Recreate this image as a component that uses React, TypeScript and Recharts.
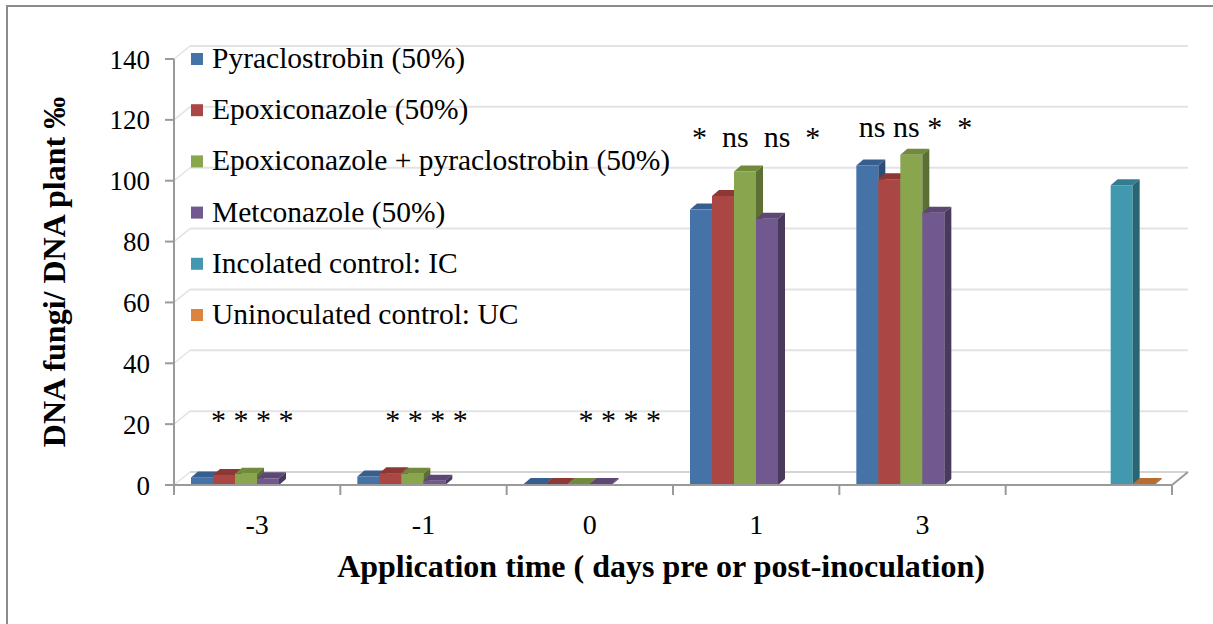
import React from 'react';
import { ComposedChart, Bar, Line, XAxis, YAxis, CartesianGrid, Legend, LabelList } from 'recharts';

// ---------------- data ----------------
const CATEGORIES = ['-3', '-1', '0', '1', '3', ''];
const PYRACLOSTROBIN = [2.5, 2.8, 0.3, 90.5, 105, null];
const EPOXICONAZOLE = [3.3, 3.9, 0.3, 95, 100.5, null];
const EPOXI_PYRA = [3.7, 3.7, 0.3, 103, 108.5, null];
const METCONAZOLE = [2.2, 1.4, 0.3, 87.5, 89.5, null];
const INOCULATED_CONTROL = [null, null, null, null, null, 98.5];
const UNINOCULATED_CONTROL = [null, null, null, null, null, 0.3];
const SIGNIFICANCE_TEXT = ['* * * *', '* * * *', '* * * *', '*  ns  ns  *', 'ns ns *  *', ''];
const SIGNIFICANCE_LEVEL = [18, 18, 18, 111, 114.5, null];
const Y_TICKS = [0, 20, 40, 60, 80, 100, 120, 140];

const SERIES = [
  { key: 'pyra', name: 'Pyraclostrobin (50%)', values: PYRACLOSTROBIN, color: '#4573a7', top: '#365e8e', side: '#2c4d75' },
  { key: 'epox', name: 'Epoxiconazole (50%)', values: EPOXICONAZOLE, color: '#aa4643', top: '#8e3835', side: '#742d2b' },
  { key: 'epoxPyra', name: 'Epoxiconazole + pyraclostrobin (50%)', values: EPOXI_PYRA, color: '#89a54e', top: '#718a3e', side: '#5b7032' },
  { key: 'metc', name: 'Metconazole (50%)', values: METCONAZOLE, color: '#71588f', top: '#5c4775', side: '#4a395f' },
  { key: 'ic', name: 'Incolated control: IC', values: INOCULATED_CONTROL, color: '#4198af', top: '#347d90', side: '#2a6574' },
  { key: 'uc', name: 'Uninoculated control: UC', values: UNINOCULATED_CONTROL, color: '#db843d', top: '#b86d30', side: '#955827' },
];

const data = CATEGORIES.map((cat, i) => {
  const row: any = { cat, sig: SIGNIFICANCE_LEVEL[i] };
  SERIES.forEach((s) => { row[s.key] = s.values[i]; });
  return row;
});

// ---------------- layout ----------------
const W = 1213;
const H = 624;
const PLOT = { left: 174, right: 1172, top: 59, bottom: 485 };
const WALL_DX = 16;
const WALL_DY = 13;
const BAR_DX = 7;
const BAR_DY = 6;
const FONT = '"Liberation Serif", "Times New Roman", serif';
const SIG_SHIFT = [-5, 3, 30, 0, -7, 0];
const AXIS_GRAY = '#9a9a9a';
const GRID_GRAY = '#e3e3e3';

const make3D = (s: any) => (props: any) => {
  const { x, y, width, height, payload } = props;
  if (!payload || payload[s.key] == null || width == null || y == null) return null;
  const h = Math.max(height || 0, 0);
  return (
    <g>
      <rect x={x} y={y} width={width} height={h} fill={s.color} />
      <polygon
        points={`${x},${y} ${x + BAR_DX},${y - BAR_DY} ${x + width + BAR_DX},${y - BAR_DY} ${x + width},${y}`}
        fill={s.top}
      />
      <polygon
        points={`${x + width},${y} ${x + width + BAR_DX},${y - BAR_DY} ${x + width + BAR_DX},${y + h - BAR_DY} ${x + width},${y + h}`}
        fill={s.side}
      />
    </g>
  );
};

const gridLine = (p: any) => {
  const { x1, y1, x2, key } = p;
  const isFloor = Math.abs(y1 - PLOT.bottom) < 1;
  return (
    <g key={key}>
      <line x1={x1 + WALL_DX} y1={y1 - WALL_DY} x2={x2 + WALL_DX} y2={y1 - WALL_DY} stroke={isFloor ? '#d4d4d4' : GRID_GRAY} strokeWidth={2} />
      <line x1={x1} y1={y1} x2={x1 + WALL_DX} y2={y1 - WALL_DY} stroke={GRID_GRAY} strokeWidth={1.5} />
      {isFloor && (
        <line x1={x2} y1={y1} x2={x2 + WALL_DX} y2={y1 - WALL_DY} stroke={AXIS_GRAY} strokeWidth={2} />
      )}
    </g>
  );
};

const XTick = (props: any) => {
  const { x, payload, index } = props;
  const band = (PLOT.right - PLOT.left) / CATEGORIES.length;
  const y0 = PLOT.bottom;
  return (
    <g>
      <line x1={x - band / 2} y1={y0} x2={x - band / 2} y2={y0 + 10} stroke={AXIS_GRAY} strokeWidth={2} />
      {index === CATEGORIES.length - 1 && (
        <line x1={x + band / 2} y1={y0} x2={x + band / 2} y2={y0 + 10} stroke={AXIS_GRAY} strokeWidth={2} />
      )}
      <text x={x} y={y0 + 49} textAnchor="middle" fontFamily={FONT} fontSize={28} fill="#000">
        {payload.value}
      </text>
    </g>
  );
};

const renderSig = (p: any) => {
  const { x, y, index, value } = p;
  if (value == null || x == null || y == null) return null;
  return (
    <text
      x={x + SIG_SHIFT[index]}
      y={y}
      textAnchor="middle"
      fontFamily={FONT}
      fontSize={30}
      fill="#000"
      style={{ whiteSpace: 'pre' }}
    >
      {SIGNIFICANCE_TEXT[index]}
    </text>
  );
};

const renderLegend = () => (
  <svg width={720} height={340} style={{ display: 'block' }}>
    {SERIES.map((s, i) => (
      <g key={s.key}>
        <rect x={191} y={53 + i * 51.2} width={12} height={12} fill={s.color} />
        <text x={212} y={68 + i * 51.2} fontFamily={FONT} fontSize={29.5} fill="#000">
          {s.name}
        </text>
      </g>
    ))}
  </svg>
);

export default function App() {
  return (
    <div style={{ position: 'absolute', left: 0, top: 0, width: W, height: H, overflow: 'hidden', background: '#fff' }}>
      <div
        style={{
          position: 'absolute',
          left: 6,
          top: 5,
          width: W + 20,
          height: H + 20,
          border: '2px solid #8c8c8c',
          boxSizing: 'border-box',
        }}
      />
      <div style={{ position: 'absolute', left: 0, top: 0 }}>
        <ComposedChart
          width={W}
          height={H}
          data={data}
          margin={{ top: PLOT.top, right: W - PLOT.right, bottom: 0, left: 0 }}
          barSize={22}
          barGap={0}
        >
          <CartesianGrid vertical={false} horizontal={gridLine} />
          <XAxis
            dataKey="cat"
            interval={0}
            height={H - PLOT.bottom}
            axisLine={{ stroke: AXIS_GRAY, strokeWidth: 2 }}
            tickLine={false}
            tick={<XTick />}
            label={{
              content: () => (
                <text
                  x={(PLOT.left + PLOT.right) / 2 - 12}
                  y={577}
                  textAnchor="middle"
                  fontFamily={FONT}
                  fontSize={32}
                  fontWeight="bold"
                  fill="#000"
                >
                  Application time ( days pre or post-inoculation)
                </text>
              ),
            }}
          />
          <YAxis
            width={PLOT.left}
            domain={[0, 140]}
            ticks={Y_TICKS}
            interval={0}
            axisLine={{ stroke: AXIS_GRAY, strokeWidth: 2 }}
            tickLine={{ stroke: AXIS_GRAY, strokeWidth: 2 }}
            tickSize={9}
            tickMargin={15}
            tick={{ fontFamily: FONT, fontSize: 27, fill: '#000' }}
            label={{
              content: () => (
                <text
                  x={65}
                  y={(PLOT.top + PLOT.bottom) / 2}
                  transform={`rotate(-90 65 ${(PLOT.top + PLOT.bottom) / 2})`}
                  textAnchor="middle"
                  fontFamily={FONT}
                  fontSize={32}
                  fontWeight="bold"
                  fill="#000"
                >
                  DNA fungi/ DNA plant ‰
                </text>
              ),
            }}
          />
          <Legend
            layout="vertical"
            align="center"
            verticalAlign="middle"
            content={renderLegend}
            wrapperStyle={{ left: 0, top: 0, width: 720, height: 340 }}
          />
          {SERIES.map((s) => (
            <Bar
              key={s.key}
              dataKey={s.key}
              name={s.name}
              fill={s.color}
              isAnimationActive={false}
              shape={make3D(s)}
            />
          ))}
          <Line
            dataKey="sig"
            stroke="none"
            dot={false}
            activeDot={false}
            legendType="none"
            isAnimationActive={false}
          >
            <LabelList dataKey="sig" content={renderSig} />
          </Line>
        </ComposedChart>
      </div>
    </div>
  );
}
